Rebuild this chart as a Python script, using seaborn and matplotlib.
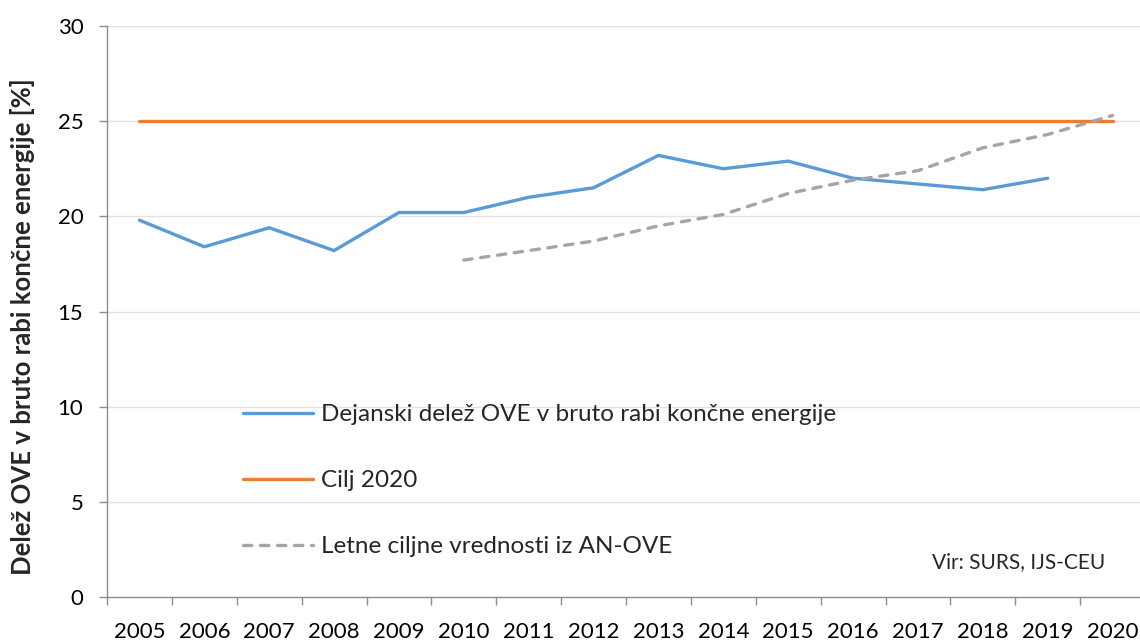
import numpy as np
import pandas as pd
import matplotlib
matplotlib.use("Agg")
import matplotlib.pyplot as plt
from matplotlib.ticker import FixedLocator, NullFormatter
import seaborn as sns

# Podatki (odčitani z grafa)
leta = list(range(2005, 2021))
dejanski = [19.8, 18.4, 19.4, 18.2, 20.2, 20.2, 21.0, 21.5, 23.2, 22.5, 22.9, 22.0, 21.7, 21.4, 22.0, np.nan]
cilj_2020 = [25.0] * 16
letne_ciljne = [np.nan] * 5 + [17.7, 18.2, 18.7, 19.5, 20.1, 21.2, 21.9, 22.4, 23.6, 24.3, 25.3]

oznake = [
    "Dejanski delež OVE v bruto rabi končne energije",
    "Cilj 2020",
    "Letne ciljne vrednosti iz AN-OVE",
]
barve = ["#5B9BD5", "#ED7D31", "#A5A5A5"]

df = pd.DataFrame({"leto": leta, oznake[0]: dejanski, oznake[1]: cilj_2020, oznake[2]: letne_ciljne})

sns.set_theme(style="ticks")
plt.rcParams["font.family"] = ["Lato", "DejaVu Sans"]

fig = plt.figure(figsize=(11.4, 6.41), dpi=100)
ax = fig.add_axes([107 / 1140, 1 - 597 / 641, (1145 - 107) / 1140, (597 - 26) / 641])

# Črte
sns.lineplot(data=df, x="leto", y=oznake[0], ax=ax, color=barve[0], linewidth=2.4,
             label=oznake[0], solid_capstyle="round")
sns.lineplot(data=df, x="leto", y=oznake[1], ax=ax, color=barve[1], linewidth=2.4,
             label=oznake[1], solid_capstyle="round")
sns.lineplot(data=df, x="leto", y=oznake[2], ax=ax, color=barve[2], linewidth=2.4,
             label=oznake[2], dashes=False)
crtkano = [2.5, 2.6]
ax.lines[-1].set_dashes(crtkano)
ax.lines[-1].set_dash_capstyle("round")

# Osi
ax.set_xlim(2004.5, 2020.5)
ax.set_ylim(0, 30)
ax.set_yticks(range(0, 31, 5))
ax.yaxis.grid(True, color="#e3e3e3", linewidth=1)
ax.set_axisbelow(True)

# kategorijska os: kljukice med leti, napisi na sredini
ax.xaxis.set_major_locator(FixedLocator([l - 0.5 for l in leta] + [2020.5]))
ax.xaxis.set_major_formatter(NullFormatter())
ax.xaxis.set_minor_locator(FixedLocator(leta))
ax.set_xticklabels([str(l) for l in leta], minor=True)
ax.tick_params(axis="x", which="major", length=6, width=1, color="#8c8c8c")
ax.tick_params(axis="x", which="minor", length=0, pad=18, labelsize=16, labelcolor="black")
ax.tick_params(axis="y", length=6, width=1, color="#8c8c8c", pad=11, labelsize=16, labelcolor="black")

for s in ["top", "right"]:
    ax.spines[s].set_visible(False)
for s in ["left", "bottom"]:
    ax.spines[s].set_color("#8c8c8c")
    ax.spines[s].set_linewidth(1)

ax.set_xlabel("")
ax.set_ylabel("")
fig.text(23 / 1140, 1 - 327 / 641, "Delež OVE v bruto rabi končne energije [%]",
         rotation=90, ha="center", va="center", fontsize=18.5, fontweight="bold")

# Legenda
leg = ax.legend(loc="upper left", bbox_to_anchor=(243 / 1140, 1 - 404 / 641),
                bbox_transform=fig.transFigure, frameon=False, fontsize=17.5,
                handlelength=2.9, handletextpad=0.3, labelspacing=1.86, borderpad=0, borderaxespad=0)
leg.get_lines()[2].set_dashes(crtkano)
leg.get_lines()[2].set_dash_capstyle("round")

fig.text(1105 / 1140, 1 - 562 / 641, "Vir: SURS, IJS-CEU", ha="right", va="center", fontsize=15)

plt.savefig("out.png", dpi=100)
